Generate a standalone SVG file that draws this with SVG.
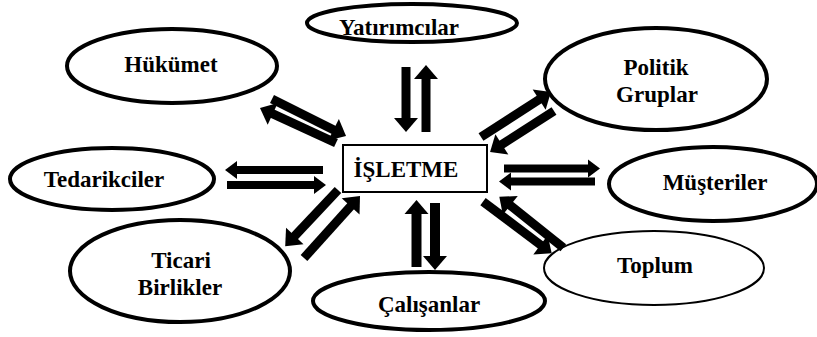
<svg xmlns="http://www.w3.org/2000/svg" width="817" height="337" viewBox="0 0 817 337">
  <style>
    .oval { fill: #ffffff; stroke: #000000; stroke-width: 4; }
    .oval.thin { stroke-width: 2; }
    .box { fill: #ffffff; stroke: #000000; stroke-width: 2; }
    text { font-family: 'Liberation Serif', 'Times New Roman', 'DejaVu Serif', serif; font-weight: 700; font-size: 23px; fill: #000000; text-anchor: middle; }
    .shaft { stroke: #000000; stroke-width: 9; fill: none; marker-end: url(#head); }
    .shaft.wide { stroke-width: 10; }
    .shaft.small { stroke-width: 8; marker-end: url(#headSmall); }
  </style>
  <defs>
    <marker id="head" markerUnits="userSpaceOnUse" orient="auto" refX="0" refY="0" markerWidth="30" markerHeight="30" overflow="visible">
      <path d="M-1,-12 L13,0 L-1,12 Z" fill="#000000"/>
    </marker>
    <marker id="headSmall" markerUnits="userSpaceOnUse" orient="auto" refX="0" refY="0" markerWidth="30" markerHeight="30" overflow="visible">
      <path d="M-1,-9 L11,0 L-1,9 Z" fill="#000000"/>
    </marker>
  </defs>

  <!-- stakeholder nodes -->
  <g id="yatirimcilar">
    <ellipse class="oval" cx="412" cy="23" rx="105" ry="19"/>
    <text x="399" y="35" font-family="Liberation Serif, serif">Yatırımcılar</text>
  </g>
  <g id="hukumet">
    <ellipse class="oval" cx="172" cy="66" rx="105" ry="37"/>
    <text x="171" y="72" font-family="Liberation Serif, serif">Hükümet</text>
  </g>
  <g id="politik-gruplar">
    <ellipse class="oval" cx="656" cy="79" rx="111" ry="51"/>
    <text x="656" y="75" font-family="Liberation Serif, serif">Politik</text>
    <text x="657" y="102" font-family="Liberation Serif, serif">Gruplar</text>
  </g>
  <g id="tedarikciler">
    <ellipse class="oval" cx="112" cy="179" rx="102" ry="31"/>
    <text x="104" y="187" font-family="Liberation Serif, serif">Tedarikciler</text>
  </g>
  <g id="musteriler">
    <ellipse class="oval" cx="713" cy="184" rx="104" ry="37"/>
    <text x="715" y="190" font-family="Liberation Serif, serif">Müşteriler</text>
  </g>
  <g id="ticari-birlikler">
    <ellipse class="oval" cx="180" cy="271" rx="110" ry="51"/>
    <text x="181" y="268" font-family="Liberation Serif, serif">Ticari</text>
    <text x="180" y="295" font-family="Liberation Serif, serif">Birlikler</text>
  </g>
  <g id="toplum">
    <ellipse class="oval thin" cx="654" cy="268" rx="110" ry="37"/>
    <text x="655" y="273" font-family="Liberation Serif, serif">Toplum</text>
  </g>
  <g id="calisanlar">
    <ellipse class="oval" cx="429" cy="301" rx="116" ry="29"/>
    <text x="429" y="312" font-family="Liberation Serif, serif">Çalışanlar</text>
  </g>

  <!-- central node -->
  <g id="isletme">
    <rect class="box" x="343" y="145" width="144" height="47"/>
    <text x="406" y="177" font-family="Liberation Serif, serif">İŞLETME</text>
  </g>

  <!-- two-way flows between the firm and each stakeholder -->
  <g id="connectors">
    <line class="shaft" x1="406" y1="67" x2="406" y2="119"/>
    <line class="shaft" x1="426" y1="132" x2="426" y2="78"/>

    <line class="shaft wide" x1="416.5" y1="267" x2="416.5" y2="213"/>
    <line class="shaft wide" x1="435" y1="203" x2="435" y2="257"/>

    <line class="shaft" x1="272" y1="99" x2="334.4" y2="130.2"/>
    <line class="shaft" x1="336" y1="143" x2="271.8" y2="113.4"/>

    <line class="shaft small" x1="323" y1="170" x2="236" y2="170"/>
    <line class="shaft small" x1="227" y1="185" x2="315" y2="185"/>

    <line class="shaft small" x1="504" y1="168.5" x2="589" y2="168.5"/>
    <line class="shaft small" x1="595" y1="181.5" x2="510" y2="181.5"/>

    <line class="shaft" x1="481" y1="137" x2="540" y2="99"/>
    <line class="shaft" x1="554" y1="111" x2="501" y2="145"/>

    <line class="shaft" x1="483" y1="201.7" x2="541.3" y2="245.5"/>
    <line class="shaft" x1="563.3" y1="247.7" x2="509.5" y2="204.8"/>

    <line class="shaft" x1="338" y1="190" x2="294.1" y2="236.7"/>
    <line class="shaft" x1="304" y1="258" x2="351.3" y2="205.6"/>
  </g>
</svg>
